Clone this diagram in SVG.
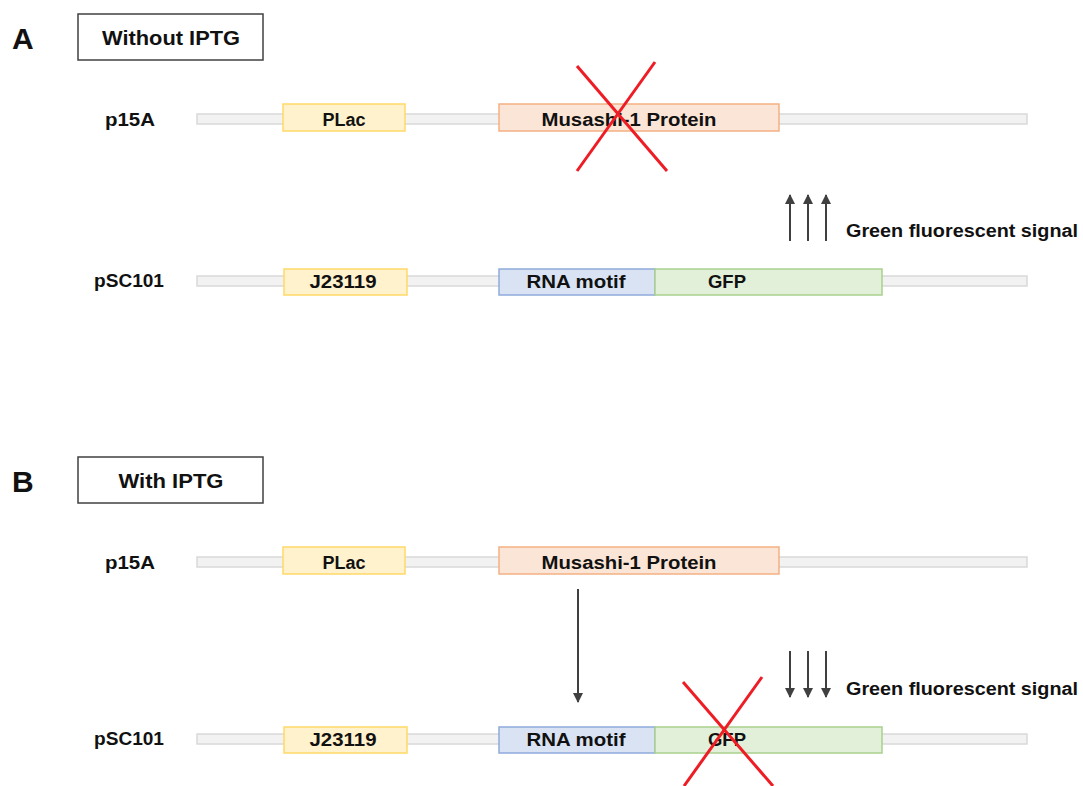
<svg xmlns="http://www.w3.org/2000/svg" width="1083" height="786" viewBox="0 0 1083 786">
<defs>
<style>
.t{font-family:"Liberation Sans",Arial,sans-serif;font-weight:bold;fill:#111;}
.bb{fill:#f2f2f2;stroke:#d9d9d9;stroke-width:1.5;}
.title{fill:#fff;stroke:#404040;stroke-width:1.5;}
.prom{fill:#fff2cc;stroke:#ffd966;stroke-width:1.5;}
.msi{fill:#fbe5d6;stroke:#f4b183;stroke-width:1.5;}
.rna{fill:#dae3f3;stroke:#8faadc;stroke-width:1.5;}
.gfp{fill:#e2f0d9;stroke:#a9d18e;stroke-width:1.5;}
.x{stroke:#ee1c24;stroke-width:3;fill:none;}
.ar{stroke:#404040;stroke-width:2;fill:none;marker-end:url(#ah);}
</style>
<marker id="ah" viewBox="0 0 10 10" refX="9" refY="5" markerWidth="5" markerHeight="5" markerUnits="strokeWidth" orient="auto">
<path d="M0,0 L10,5 L0,10 z" fill="#404040"/>
</marker>
</defs>
<rect width="1083" height="786" fill="#fff"/>

<!-- Panel A -->
<g id="labelA"><text class="t" x="12" y="49" font-size="30">A</text></g>
<g id="titleA"><rect class="title" x="78" y="14" width="185" height="46"/><text class="t" x="171" y="45" font-size="21" text-anchor="middle" textLength="138" lengthAdjust="spacingAndGlyphs">Without IPTG</text></g>

<g id="p15A_A">
<text class="t" x="105" y="126" font-size="18" textLength="50" lengthAdjust="spacingAndGlyphs">p15A</text>
<rect class="bb" x="197" y="114" width="830" height="10"/>
</g>
<g id="plac_A"><rect class="prom" x="283" y="104" width="122" height="27"/><text class="t" x="344" y="126" font-size="18" text-anchor="middle">PLac</text></g>
<g id="msi_A"><rect class="msi" x="499" y="104" width="280" height="27"/><text class="t" x="629" y="126" font-size="18" text-anchor="middle" textLength="175" lengthAdjust="spacingAndGlyphs">Musashi-1 Protein</text></g>

<g id="pSC101_A">
<text class="t" x="94" y="287" font-size="18" textLength="70" lengthAdjust="spacingAndGlyphs">pSC101</text>
<rect class="bb" x="197" y="276" width="830" height="10"/>
</g>
<g id="j_A"><rect class="prom" x="284" y="269" width="123" height="26"/><text class="t" x="343" y="288" font-size="18" text-anchor="middle" textLength="67" lengthAdjust="spacingAndGlyphs">J23119</text></g>
<g id="rna_A"><rect class="rna" x="499" y="269" width="156" height="26"/><text class="t" x="576" y="288" font-size="18" text-anchor="middle" textLength="99" lengthAdjust="spacingAndGlyphs">RNA motif</text></g>
<g id="gfp_A"><rect class="gfp" x="655" y="269" width="227" height="26"/><text class="t" x="727" y="288" font-size="18" text-anchor="middle" textLength="38" lengthAdjust="spacingAndGlyphs">GFP</text></g>

<g id="signal_A"><text class="t" x="846" y="237" font-size="18" textLength="232" lengthAdjust="spacingAndGlyphs">Green fluorescent signal</text></g>

<!-- Panel B -->
<g id="labelB"><text class="t" x="12" y="492" font-size="30">B</text></g>
<g id="titleB"><rect class="title" x="78" y="457" width="185" height="46"/><text class="t" x="171" y="488" font-size="21" text-anchor="middle" textLength="105" lengthAdjust="spacingAndGlyphs">With IPTG</text></g>

<g id="p15A_B">
<text class="t" x="105" y="569" font-size="18" textLength="50" lengthAdjust="spacingAndGlyphs">p15A</text>
<rect class="bb" x="197" y="557" width="830" height="10"/>
</g>
<g id="plac_B"><rect class="prom" x="283" y="547" width="122" height="27"/><text class="t" x="344" y="569" font-size="18" text-anchor="middle">PLac</text></g>
<g id="msi_B"><rect class="msi" x="499" y="547" width="280" height="27"/><text class="t" x="629" y="569" font-size="18" text-anchor="middle" textLength="175" lengthAdjust="spacingAndGlyphs">Musashi-1 Protein</text></g>

<g id="pSC101_B">
<text class="t" x="94" y="745" font-size="18" textLength="70" lengthAdjust="spacingAndGlyphs">pSC101</text>
<rect class="bb" x="197" y="734" width="830" height="10"/>
</g>
<g id="j_B"><rect class="prom" x="284" y="727" width="123" height="26"/><text class="t" x="343" y="746" font-size="18" text-anchor="middle" textLength="67" lengthAdjust="spacingAndGlyphs">J23119</text></g>
<g id="rna_B"><rect class="rna" x="499" y="727" width="156" height="26"/><text class="t" x="576" y="746" font-size="18" text-anchor="middle" textLength="99" lengthAdjust="spacingAndGlyphs">RNA motif</text></g>
<g id="gfp_B"><rect class="gfp" x="655" y="727" width="227" height="26"/><text class="t" x="727" y="746" font-size="18" text-anchor="middle" textLength="38" lengthAdjust="spacingAndGlyphs">GFP</text></g>

<g id="signal_B"><text class="t" x="846" y="695" font-size="18" textLength="232" lengthAdjust="spacingAndGlyphs">Green fluorescent signal</text></g>

<!-- connectors -->
<g id="connectors">
<line class="ar" x1="790" y1="241" x2="790" y2="195"/>
<line class="ar" x1="808" y1="241" x2="808" y2="195"/>
<line class="ar" x1="826" y1="241" x2="826" y2="195"/>
<line class="ar" x1="578" y1="589" x2="578" y2="702"/>
<line class="ar" x1="790" y1="651" x2="790" y2="697"/>
<line class="ar" x1="808" y1="651" x2="808" y2="697"/>
<line class="ar" x1="826" y1="651" x2="826" y2="697"/>
</g>

<!-- red crosses -->
<g id="crossA">
<line class="x" x1="577" y1="66" x2="667" y2="171"/>
<line class="x" x1="655" y1="62" x2="577" y2="171"/>
</g>
<g id="crossB">
<line class="x" x1="683" y1="682" x2="773" y2="786"/>
<line class="x" x1="762" y1="677" x2="684" y2="786"/>
</g>
</svg>
